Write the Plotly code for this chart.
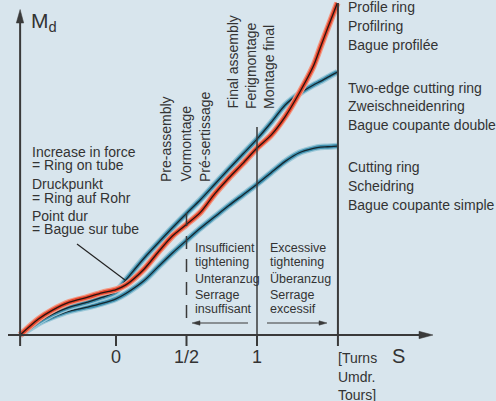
import plotly.graph_objects as go

# ---------------- data ----------------
# S in turns (0 = ring on tube), Md as relative torque (0..100)
turns = [-0.68, -0.55, -0.45, -0.33, -0.2, -0.1, 0, 0.07, 0.2, 0.3, 0.4, 0.5,
         0.6, 0.7, 0.8, 0.9, 1.0, 1.1, 1.2, 1.3, 1.4, 1.45, 1.5, 1.57]
md_profile_ring = [0, 4.8, 7.5, 9.9, 11.4, 12.7, 13.7, 15.1, 19.9, 25.0, 29.8, 33.3,
                   37.0, 42.5, 47.3, 51.7, 56.3, 60.2, 65.8, 72.9, 81.0, 86.7, 92.3, 100]
md_two_edge = [0, 3.9, 6.3, 8.4, 9.9, 11.3, 13.0, 16.6, 23.2, 27.8, 32.3, 36.6,
               40.8, 45.4, 50.0, 54.5, 59.0, 64.0, 69.3, 72.7, 75.3, 76.4, 77.6, 79.2]
md_cutting = [0, 3.5, 5.4, 7.2, 8.4, 9.5, 10.9, 12.5, 16.4, 20.6, 24.7, 28.5,
              32.2, 35.6, 39.0, 42.2, 45.4, 48.9, 52.3, 54.9, 56.2, 56.6, 56.7, 56.9]

x_origin = -0.68
x_end = 1.574
tick_vals = [0, 0.5, 1]
tick_text = ["0", "1/2", "1"]
unit_text = ["[Turns", "Umdr.", "Tours]"]

labels_profile = ["Profile ring", "Profilring", "Bague profilée"]
labels_two_edge = ["Two-edge cutting ring", "Zweischneidenring", "Bague coupante double"]
labels_cutting = ["Cutting ring", "Scheidring", "Bague coupante simple"]
labels_force = ["Increase in force", "= Ring on tube", "Druckpunkt",
                "= Ring auf Rohr", "Point dur", "= Bague sur tube"]
labels_pre = ["Pre-assembly", "Vormontage", "Pré-sertissage"]
labels_final = ["Final assembly", "Ferigmontage", "Montage final"]
labels_insuff = ["Insufficient", "tightening", "Unteranzug", "Serrage", "insuffisant"]
labels_excess = ["Excessive", "tightening", "Überanzug", "Serrage", "excessif"]

# ---------------- helpers (layout positions only) ----------------
W, H = 496, 401
def X(px):
    return (px - 116) / 141.0
def Y(py):
    return (335 - py) / 3.32

BG = "#d8e5ed"
INK = "#333333"
AX = "#3a3a3a"
FONT = "Liberation Sans, Arial, Helvetica, sans-serif"

fig = go.Figure()

def add_curve(y, halo, mid, core):
    fig.add_trace(go.Scatter(x=turns, y=y, mode="lines", hoverinfo="skip",
                             line=dict(color=halo, width=6.5, shape="spline", smoothing=0.8)))
    fig.add_trace(go.Scatter(x=turns, y=y, mode="lines", hoverinfo="skip",
                             line=dict(color=mid, width=4, shape="spline", smoothing=0.8)))
    fig.add_trace(go.Scatter(x=turns, y=y, mode="lines", hoverinfo="skip",
                             line=dict(color=core, width=1.3, shape="spline", smoothing=0.8)))

add_curve(md_cutting, "#9cc8d8", "#3f8fae", "#14262e")
add_curve(md_two_edge, "#9cc8d8", "#3f8fae", "#14262e")
add_curve(md_profile_ring, "#f19a84", "#e8452c", "#2a1410")

shapes = []
def line(x0, y0, x1, y1, w=2, color=AX, dash=None):
    d = dict(type="line", x0=x0, y0=y0, x1=x1, y1=y1, xref="x", yref="y",
             line=dict(color=color, width=w), layer="above")
    if dash:
        d["line"]["dash"] = dash
    shapes.append(d)

def tri(pts, color=AX):
    p = "M " + " L ".join(f"{a},{b}" for a, b in pts) + " Z"
    shapes.append(dict(type="path", path=p, xref="x", yref="y",
                       fillcolor=color, line=dict(color=color, width=0.5), layer="above"))

# axes
line(X(8), 0, X(421), 0, w=2)
tri([(X(433), 0), (X(419), Y(331.3)), (X(419), Y(338.7))])
line(x_origin, Y(346), x_origin, Y(22), w=2)
tri([(x_origin, Y(9.5)), (X(16.3), Y(23)), (X(23.7), Y(23))])
for tv in tick_vals:
    line(tv, 0, tv, Y(346), w=2)
line(x_end, Y(3), x_end, Y(346), w=2)
line(1, Y(127), 1, Y(335), w=1.5)
line(0.5, Y(213), 0.5, Y(325), w=1.5, dash="13px,10px")
# pointer to "ring on tube"
line(X(77), Y(244), X(125), Y(280), w=1.2, color="#222222")
# small arrows
line(X(248), Y(323), X(199), Y(323), w=1.2)
tri([(X(192), Y(323)), (X(200), Y(320.8)), (X(200), Y(325.2))])
line(X(267), Y(323), X(319), Y(323), w=1.2)
tri([(X(327), Y(323)), (X(319), Y(320.8)), (X(319), Y(325.2))])

ann = []
def text(t, px, py, size=14, xa="left", ya="middle", font=FONT, angle=0, color=INK):
    ann.append(dict(text=t, x=X(px), y=Y(py), xref="x", yref="y", showarrow=False,
                    xanchor=xa, yanchor=ya, textangle=angle,
                    font=dict(family=font, size=size, color=color)))

for t, py in zip(labels_profile, [7, 26, 45]):
    text(t, 346, py)
for t, py in zip(labels_two_edge, [87.5, 106, 124.5]):
    text(t, 346, py)
for t, py in zip(labels_cutting, [167, 185.5, 204.5]):
    text(t, 346, py)
for t, py in zip(labels_force, [152, 164.5, 183.5, 197.5, 216, 228.5]):
    text(t, 30, py)
for t, px in zip(labels_pre, [166, 185.5, 205]):
    text(t, px, 184, xa="center", ya="bottom", angle=-90)
for t, px in zip(labels_final, [232, 250.5, 269]):
    text(t, px, 111, xa="center", ya="bottom", angle=-90)
for t, py in zip(labels_insuff, [248, 262, 278.5, 294.5, 309]):
    text(t, 193, py, size=12.5)
for t, py in zip(labels_excess, [248, 262, 278.5, 294.5, 309]):
    text(t, 268, py, size=12.5)

for tv, tt in zip(tick_vals, tick_text):
    ann.append(dict(text=tt, x=tv, y=Y(357), xref="x", yref="y", showarrow=False,
                    xanchor="center", yanchor="middle",
                    font=dict(family=FONT, size=18, color=INK)))
for t, py in zip(unit_text, [357.5, 376.5, 395]):
    ann.append(dict(text=t, x=x_end, y=Y(py), xref="x", yref="y", showarrow=False,
                    xanchor="left", yanchor="middle", xshift=-2,
                    font=dict(family=FONT, size=14, color=INK)))
text("S", 398, 356, size=20, xa="center")
text("M<sub>d</sub>", 29, 22, size=21)

fig.update_layout(
    width=W, height=H, autosize=False,
    margin=dict(l=0, r=0, t=0, b=0, pad=0),
    paper_bgcolor=BG, plot_bgcolor=BG,
    showlegend=False,
    xaxis=dict(range=[X(0), X(W)], visible=False, fixedrange=True),
    yaxis=dict(range=[Y(H), Y(0)], visible=False, fixedrange=True),
    shapes=shapes, annotations=ann,
)

fig.write_html(
    "out.html",
    config={"displayModeBar": False},
    post_script="document.body.style.margin='0';document.body.style.background='%s';" % BG,
)
